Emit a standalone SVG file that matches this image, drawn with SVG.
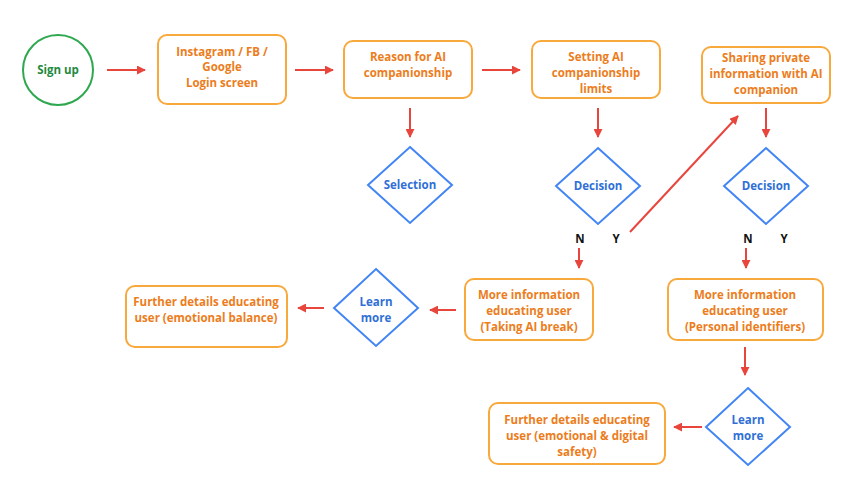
<svg xmlns="http://www.w3.org/2000/svg" width="853" height="479" viewBox="0 0 853 479">
<defs>
<marker id="ah" viewBox="0 0 10 10" refX="9" refY="5" markerWidth="4.5" markerHeight="4.5" orient="auto"><path d="M0,0 L10,5 L0,10 z" fill="#e8453c"/></marker>
<style>
.box{fill:#fff;stroke:#f8a93c;stroke-width:2}
.dia{fill:#fff;stroke:#4285f4;stroke-width:2}
.c{fill:none;stroke:#e8453c;stroke-width:2;marker-end:url(#ah)}
text{font-family:"Open Sans","Liberation Sans",sans-serif;font-weight:bold;font-size:11.5px;text-anchor:middle}
.o{fill:#ec7d1c}.b{fill:#2f6fd6}.k{fill:#111}
</style>
</defs>
<rect width="853" height="479" fill="#fff"/>
<g id="signup"><circle cx="58" cy="70" r="35" fill="#fff" stroke="#2ea84f" stroke-width="2"/><text x="58" y="74" fill="#1f8a3e">Sign up</text></g>
<g id="login"><rect class="box" x="158" y="35" width="128" height="69" rx="9"/><text class="o" x="222" y="56">Instagram / FB /</text><text class="o" x="222" y="71">Google</text><text class="o" x="222" y="87">Login screen</text></g>
<g id="reason"><rect class="box" x="344" y="41" width="128" height="57" rx="9"/><text class="o" x="408" y="61">Reason for AI</text><text class="o" x="408" y="77">companionship</text></g>
<g id="limits"><rect class="box" x="532" y="41" width="128" height="57" rx="9"/><text class="o" x="596" y="61">Setting AI</text><text class="o" x="596" y="77">companionship</text><text class="o" x="596" y="93">limits</text></g>
<g id="sharing"><rect class="box" x="702" y="47" width="128" height="56" rx="9"/><text class="o" x="766" y="62">Sharing private</text><text class="o" x="766" y="78">information with AI</text><text class="o" x="766" y="94">companion</text></g>
<g id="selection"><polygon class="dia" points="410,147 452,185 410,223 368,185"/><text class="b" x="410" y="189">Selection</text></g>
<g id="decision1"><polygon class="dia" points="598,148 640,186 598,224 556,186"/><text class="b" x="598" y="190">Decision</text></g>
<g id="decision2"><polygon class="dia" points="766,148 808,186 766,224 724,186"/><text class="b" x="766" y="190">Decision</text></g>
<g id="labels"><text class="k" x="580" y="243">N</text><text class="k" x="616" y="243">Y</text><text class="k" x="748" y="243">N</text><text class="k" x="784" y="243">Y</text></g>
<g id="info1"><rect class="box" x="465" y="279" width="128" height="61" rx="9"/><text class="o" x="529" y="299">More information</text><text class="o" x="529" y="315">educating user</text><text class="o" x="529" y="331">(Taking AI break)</text></g>
<g id="info2"><rect class="box" x="668" y="279" width="155" height="61" rx="9"/><text class="o" x="745" y="299">More information</text><text class="o" x="745" y="315">educating user</text><text class="o" x="745" y="331">(Personal identifiers)</text></g>
<g id="learn1"><polygon class="dia" points="376,269 418,308 376,346 334,308"/><text class="b" x="376" y="306">Learn</text><text class="b" x="376" y="322">more</text></g>
<g id="further1"><rect class="box" x="126" y="286" width="161" height="61" rx="9"/><text class="o" x="206" y="306">Further details educating</text><text class="o" x="206" y="322">user (emotional balance)</text></g>
<g id="learn2"><polygon class="dia" points="748,388 790,427 748,465 706,427"/><text class="b" x="748" y="424">Learn</text><text class="b" x="748" y="440">more</text></g>
<g id="further2"><rect class="box" x="489" y="403" width="176" height="61" rx="9"/><text class="o" x="577" y="424">Further details educating</text><text class="o" x="577" y="440">user (emotional &amp; digital</text><text class="o" x="577" y="456">safety)</text></g>
<g id="connectors">
<line class="c" x1="107" y1="70" x2="145" y2="70"/>
<line class="c" x1="295" y1="70" x2="333" y2="70"/>
<line class="c" x1="482" y1="70" x2="520" y2="70"/>
<line class="c" x1="410" y1="108" x2="410" y2="137"/>
<line class="c" x1="598" y1="108" x2="598" y2="137"/>
<line class="c" x1="766" y1="108" x2="766" y2="137"/>
<line class="c" x1="630" y1="232" x2="738" y2="116"/>
<line class="c" x1="579" y1="248" x2="579" y2="268"/>
<line class="c" x1="746" y1="248" x2="746" y2="268"/>
<line class="c" x1="456" y1="310" x2="430" y2="310"/>
<line class="c" x1="324" y1="308" x2="298" y2="308"/>
<line class="c" x1="745" y1="347" x2="745" y2="375"/>
<line class="c" x1="702" y1="427" x2="674" y2="427"/>
</g>
</svg>
